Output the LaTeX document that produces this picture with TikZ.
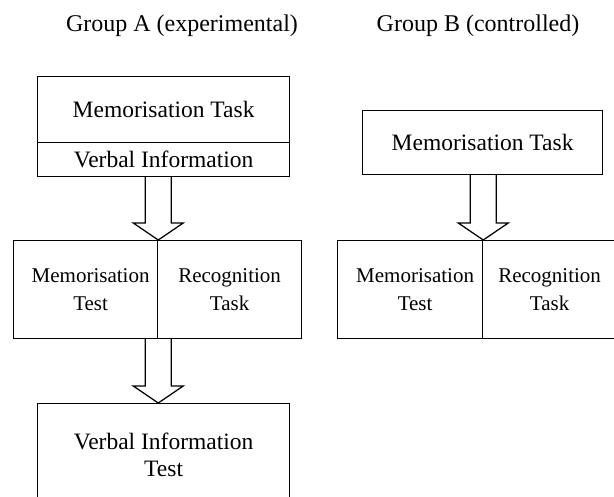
\documentclass[tikz,border=0pt]{standalone}
\usepackage{fontspec}
\setmainfont{Liberation Serif}
\usetikzlibrary{calc}

\tikzset{
  box/.style={draw, line width=1.25pt, rectangle, inner sep=0pt, anchor=north west,
              align=center, font=\fontsize{23.5}{27}\selectfont},
  cell/.style={box, font=\fontsize{21}{28}\selectfont},
  header/.style={font=\fontsize{24}{28}\selectfont, inner sep=0pt},
  barrow/.style={draw, line width=1.25pt, line join=miter, fill=white}
}

% hollow block arrow: shaft from #1 down to the tip at #2
\newcommand{\blockarrow}[2]{%
  \draw[barrow] ($(#1)+(-13,0)$) -- ($(#2)+(-13,-17)$) -- ($(#2)+(-25,-17)$)
    -- (#2) -- ($(#2)+(25,-17)$) -- ($(#2)+(13,-17)$) -- ($(#1)+(13,0)$);}

\begin{document}
\begin{tikzpicture}[x=1pt, y=-1pt]
  \useasboundingbox (0,0) rectangle (614,497);
  \clip (0,0) rectangle (614,497);

  % group titles
  \node[header] (hA) at (182,26) {Group A (experimental)};
  \node[header] (hB) at (478,26) {Group B (controlled)};

  % group A
  \node[box, minimum width=252pt, minimum height=66pt] (A1t) at (37,76) {Memorisation Task};
  \node[box, minimum width=252pt, minimum height=34pt] (A1v) at (37,142) {Verbal Information};
  \node[cell, minimum width=144pt, minimum height=98pt, text width=144pt] (A2l) at (13,240)
    {\hspace*{10pt}Memorisation\\\hspace*{10pt}Test};
  \node[cell, minimum width=144pt, minimum height=98pt] (A2r) at (157,240) {Recognition\\Task};
  \node[box, minimum width=252pt, minimum height=102pt] (A3) at (37,403) {Verbal Information\\Test};

  % group B
  \node[box, minimum width=240pt, minimum height=64pt] (B1) at (362,110) {Memorisation Task};
  \node[cell, minimum width=145pt, minimum height=98pt, text width=145pt] (B2l) at (337,240)
    {\hspace*{10pt}Memorisation\\\hspace*{10pt}Test};
  \node[cell, minimum width=134pt, minimum height=98pt] (B2r) at (482,240) {Recognition\\Task};

  % flow arrows
  \coordinate (a1s) at (A1v.south -| A2l.north east);
  \blockarrow{a1s}{A2l.north east}
  \coordinate (a2s) at (A2l.south east);
  \coordinate (a2t) at (A3.north -| A2l.south east);
  \blockarrow{a2s}{a2t}
  \coordinate (b1s) at (B1.south -| B2l.north east);
  \blockarrow{b1s}{B2l.north east}
\end{tikzpicture}
\end{document}
